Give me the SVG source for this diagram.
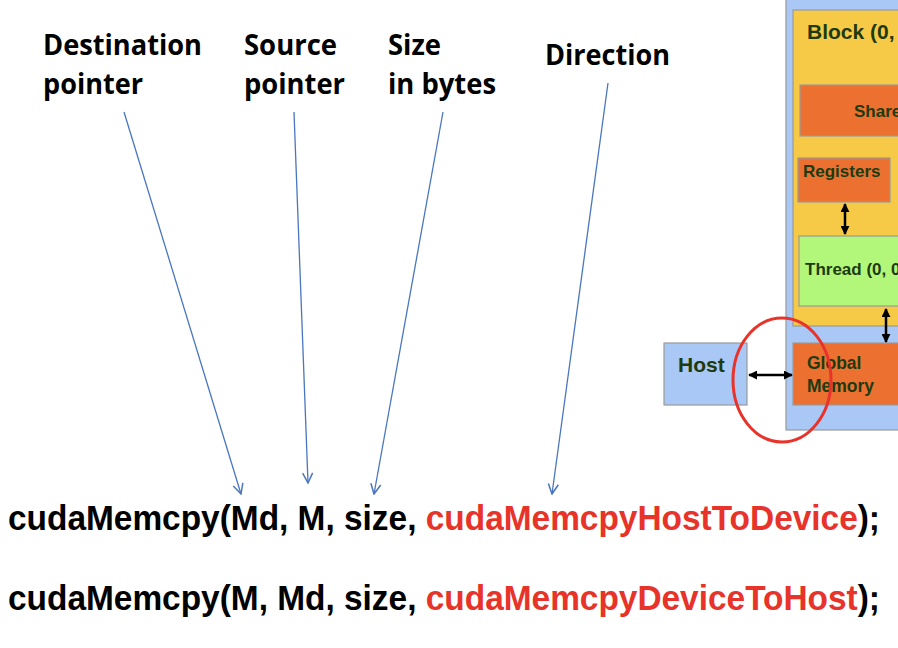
<svg xmlns="http://www.w3.org/2000/svg" width="898" height="648" viewBox="0 0 898 648">
<style>
.lbl{font-family:"Open Sans","Liberation Sans",sans-serif;font-weight:bold;font-size:28px;fill:#000}
.code{font-family:"Liberation Sans",Arial,sans-serif;font-weight:bold;font-size:35px;fill:#000}
.red{fill:#e8332a}
.box{font-family:"Liberation Sans",Arial,sans-serif;font-weight:bold;fill:#1d3b0f}
.ptr{stroke:#4a76bf;stroke-width:1.3;fill:none}
.blk{stroke:#000;stroke-width:2.5;fill:none}
</style>
<defs>
<marker id="v" viewBox="0 0 12 12" refX="11" refY="6" markerWidth="12" markerHeight="12" markerUnits="userSpaceOnUse" orient="auto">
<path d="M1,1 L11,6 L1,11" fill="none" stroke="#4a76bf" stroke-width="1.5"/>
</marker>
<marker id="b" viewBox="0 0 10 10" refX="9" refY="5" markerWidth="9" markerHeight="9" markerUnits="userSpaceOnUse" orient="auto-start-reverse">
<path d="M0,0 L10,5 L0,10 Z" fill="#000"/>
</marker>
</defs>

<g id="labels">
<text class="lbl" x="43" y="55" textLength="159" lengthAdjust="spacingAndGlyphs">Destination</text>
<text class="lbl" x="43" y="94" textLength="100" lengthAdjust="spacingAndGlyphs">pointer</text>
<text class="lbl" x="244" y="55" textLength="93" lengthAdjust="spacingAndGlyphs">Source</text>
<text class="lbl" x="244" y="94" textLength="101" lengthAdjust="spacingAndGlyphs">pointer</text>
<text class="lbl" x="388" y="55" textLength="53" lengthAdjust="spacingAndGlyphs">Size</text>
<text class="lbl" x="388" y="94" textLength="108" lengthAdjust="spacingAndGlyphs">in bytes</text>
<text class="lbl" x="545" y="65" textLength="125" lengthAdjust="spacingAndGlyphs">Direction</text>
</g>

<g id="code">
<text class="code" x="8" y="530" textLength="872" lengthAdjust="spacingAndGlyphs">cudaMemcpy(Md, M, size, <tspan class="red">cudaMemcpyHostToDevice</tspan>);</text>
<text class="code" x="8" y="610" textLength="872" lengthAdjust="spacingAndGlyphs">cudaMemcpy(M, Md, size, <tspan class="red">cudaMemcpyDeviceToHost</tspan>);</text>
</g>

<g id="grid">
<rect x="786" y="-5" width="130" height="435" fill="#a9c8f6" stroke="#9a9a9a" stroke-width="1.2"/>
</g>
<g id="block">
<rect x="793" y="10" width="120" height="316" fill="#f6ca46" stroke="#9a9a9a" stroke-width="1.2"/>
<text class="box" x="807" y="39" font-size="21">Block (0, 0)</text>
</g>
<g id="shared">
<rect x="800" y="85" width="110" height="51" fill="#ec7131" stroke="#9a9a9a" stroke-width="1.2"/>
<text class="box" x="854" y="117" font-size="17">Shared Memory</text>
</g>
<g id="registers">
<rect x="798" y="158" width="92" height="44" fill="#ec7131" stroke="#9a9a9a" stroke-width="1.2"/>
<text class="box" x="803" y="177" font-size="17">Registers</text>
</g>
<g id="thread">
<rect x="799" y="236" width="110" height="70" fill="#b2f77a" stroke="#9a9a9a" stroke-width="1.2"/>
<text class="box" x="805" y="275" font-size="17">Thread (0, 0)</text>
</g>
<g id="global">
<rect x="793" y="343" width="120" height="62" fill="#ec7131" stroke="#9a9a9a" stroke-width="1.2"/>
<text class="box" x="807" y="369" font-size="17.5">Global</text>
<text class="box" x="807" y="392" font-size="17.5">Memory</text>
</g>
<g id="host">
<rect x="664" y="343" width="83" height="62" fill="#a9c8f6" stroke="#9a9a9a" stroke-width="1.2"/>
<text class="box" x="678" y="372" font-size="21">Host</text>
</g>

<g id="connectors">
<line class="ptr" x1="124" y1="112" x2="241" y2="494" marker-end="url(#v)"/>
<line class="ptr" x1="294" y1="112" x2="308" y2="483" marker-end="url(#v)"/>
<line class="ptr" x1="443" y1="112" x2="374" y2="494" marker-end="url(#v)"/>
<line class="ptr" x1="608" y1="83" x2="552" y2="494" marker-end="url(#v)"/>
<line class="blk" x1="845" y1="204" x2="845" y2="234" marker-start="url(#b)" marker-end="url(#b)"/>
<line class="blk" x1="886" y1="309" x2="886" y2="342" marker-start="url(#b)" marker-end="url(#b)"/>
<line class="blk" x1="749" y1="375" x2="792" y2="375" marker-start="url(#b)" marker-end="url(#b)"/>
</g>

<g id="highlight">
<ellipse cx="782" cy="380" rx="49" ry="62" fill="none" stroke="#e8332a" stroke-width="3"/>
</g>
</svg>
